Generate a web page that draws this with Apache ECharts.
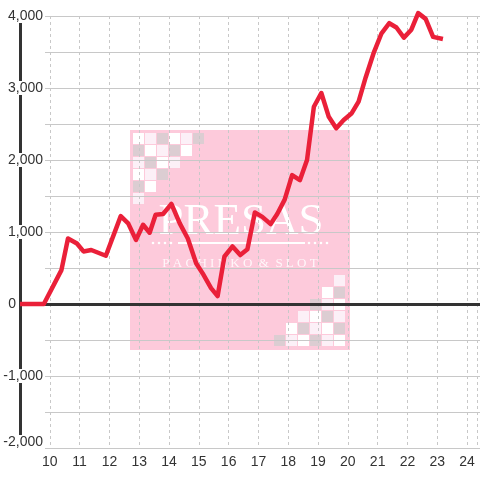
<!DOCTYPE html>
<html>
<head>
<meta charset="utf-8">
<script src="https://cdn.jsdelivr.net/npm/echarts@6/dist/echarts.min.js"></script>
<style>
  html, body { margin: 0; padding: 0; background: #fff; }
  #chart { width: 480px; height: 480px; }
</style>
</head>
<body>
<div id="chart"></div>
<script>
// hour of day (x) and running balance (y)
const hours = [9, 9.8, 10.39, 10.61, 10.91, 11.13, 11.39, 11.88, 12.38, 12.63, 12.89, 13.13, 13.35, 13.55, 13.8, 14.08,
  14.36, 14.63, 14.91, 15.13, 15.41, 15.63, 15.86, 16.13, 16.39, 16.63, 16.88, 17.13, 17.41, 17.63, 17.88,
  18.13, 18.39, 18.63, 18.86, 19.11, 19.36, 19.61, 19.86, 20.13, 20.36, 20.6, 20.86, 21.13, 21.39, 21.63,
  21.88, 22.13, 22.36, 22.61, 22.86, 23.19];
const balance = [0, 0, 470, 910, 840, 730, 750, 670, 1220, 1120, 890, 1100, 990, 1240, 1250, 1390,
  1120, 910, 565, 425, 220, 110, 660, 800, 680, 760, 1270, 1210, 1110, 1250, 1450,
  1790, 1720, 2000, 2740, 2930, 2600, 2440, 2555, 2650, 2810, 3150, 3480, 3760, 3900, 3840,
  3700, 3810, 4040, 3960, 3710, 3680];
const yMin = -2000;
const yMax = 4000;
const xFirst = 9;
const xLast = 24.333;

// watermark checker pattern: 1 white, 2 pale, 3 grey
const checker = [
  [1, 2, 3, 1, 2, 3],
  [3, 1, 2, 3, 1],
  [2, 3, 1, 2],
  [1, 2, 3],
  [3, 1],
  [2]
];
const shade = { 1: '#ffffff', 2: '#fcf0f7', 3: '#dccdd2' };

const wm = [{
  type: 'rect', z: -1, silent: true,
  shape: { x: 130, y: 130, width: 220, height: 220 },
  style: { fill: '#fdcadb' }
}];
checker.forEach((row, r) => {
  row.forEach((c, k) => {
    wm.push({ type: 'rect', z: -1, silent: true,
      shape: { x: 133 + k * 12, y: 133 + r * 12, width: 11, height: 11 },
      style: { fill: shade[c] } });
    wm.push({ type: 'rect', z: -1, silent: true,
      shape: { x: 334 - k * 12, y: 335 - r * 12, width: 11, height: 11 },
      style: { fill: shade[c] } });
  });
});
wm.push({
  type: 'text', z: -1, silent: true, x: 241, y: 222,
  style: { text: 'PRESAS', fill: '#fff', font: '45px "Liberation Serif", serif',
    textAlign: 'center', textVerticalAlign: 'middle' }
});
wm.push({
  type: 'line', z: -1, silent: true,
  shape: { x1: 178, y1: 243, x2: 305, y2: 243 },
  style: { stroke: '#fff', lineWidth: 2 }
});
[153, 159, 165, 171, 309, 315, 321, 327].forEach(dx => {
  wm.push({ type: 'circle', z: -1, silent: true,
    shape: { cx: dx, cy: 243, r: 1.3 }, style: { fill: '#fff' } });
});
wm.push({
  type: 'text', z: -1, silent: true, x: 240, y: 264,
  style: { text: 'P A C H I N K O  &  S L O T', fill: 'rgba(255,255,255,0.85)',
    font: '13px "Liberation Serif", serif', textAlign: 'center', textVerticalAlign: 'middle' }
});

const chart = echarts.init(document.getElementById('chart'));
chart.setOption({
  animation: false,
  graphic: wm,
  grid: [
    { left: 20, right: 0, top: 16, bottom: 32 },
    { left: 45, right: 0, top: 16, bottom: 32 }
  ],
  xAxis: [
    {
      type: 'value', gridIndex: 0, min: xFirst, max: xLast, interval: 1,
      axisLine: { show: false }, axisTick: { show: false },
      splitLine: { show: true, lineStyle: { color: '#c8c8c8', type: [3, 3] } },
      axisLabel: {
        color: '#333', fontSize: 14, fontFamily: 'Liberation Sans, Arial', margin: 7,
        formatter: v => (v === xFirst || v > 24 ? '' : String(v))
      }
    },
    {
      type: 'value', gridIndex: 1, min: xFirst + 25 / 30, max: xLast,
      axisLine: { show: true, onZero: true, lineStyle: { color: '#333', width: 3 } },
      axisTick: { show: false }, axisLabel: { show: false }, splitLine: { show: false }
    }
  ],
  yAxis: [
    {
      type: 'value', gridIndex: 0, position: 'left', min: yMin, max: yMax, interval: 1000,
      axisLine: { show: true, lineStyle: { color: '#333', width: 3 } },
      axisTick: { show: false }, axisLabel: { show: false }, splitLine: { show: false }
    },
    {
      type: 'value', gridIndex: 1, position: 'left', min: yMin, max: yMax, interval: 500,
      axisLine: { show: false }, axisTick: { show: false }, axisLabel: { show: false },
      splitLine: { show: true, lineStyle: { color: '#c8c8c8', width: 1 } }
    },
    {
      type: 'value', gridIndex: 1, position: 'left', offset: 0, min: yMin, max: yMax, interval: 1000, z: 5,
      axisLine: { show: false }, axisTick: { show: false }, splitLine: { show: false },
      axisLabel: {
        margin: 2,
        formatter: v => {
          const s = v.toLocaleString('en-US');
          if (v === 0) return '{z|' + s + '}';
          if (v === yMin) return '{lo|' + s + '}';
          return '{n|' + s + '}';
        },
        rich: {
          n: { color: '#333', fontSize: 14, fontFamily: 'Liberation Sans, Arial', lineHeight: 16, backgroundColor: '#fff' },
          lo: { color: '#333', fontSize: 14, fontFamily: 'Liberation Sans, Arial', lineHeight: 16, backgroundColor: '#fff', padding: [0, 0, 12, 0] },
          z: { color: '#333', fontSize: 14, fontFamily: 'Liberation Sans, Arial', lineHeight: 16, padding: [0, 27, 0, 0] }
        }
      }
    }
  ],
  series: [{
    type: 'line',
    xAxisIndex: 0,
    yAxisIndex: 0,
    data: hours.map((h, i) => [h, balance[i]]),
    symbol: 'none',
    clip: false,
    z: 10,
    lineStyle: { color: '#ea2039', width: 4.5, join: 'round' }
  }]
});
</script>
</body>
</html>
